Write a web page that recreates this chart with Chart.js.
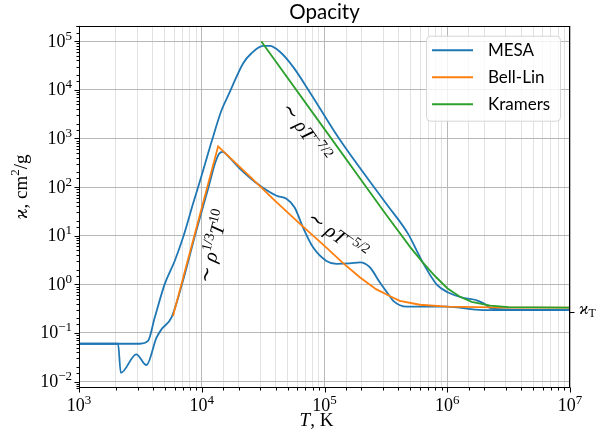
<!DOCTYPE html>
<html lang="en">
<head>
<meta charset="UTF-8">
<title>Opacity</title>
<script src="https://cdn.jsdelivr.net/npm/chart.js"></script>
<style>
  html, body { margin: 0; padding: 0; background: #fff; }
</style>
</head>
<body>
<canvas id="opacityChart" width="602" height="445"></canvas>
<script>
// MESA, upper track (T in K, kappa in cm^2/g)
const mesaHiT = [1000, 3130, 3650, 4140, 4990, 6030, 7050, 8490, 10260, 12000, 14490, 16900, 21700, 25400,
                 31600, 35800, 43300, 55500, 75900, 131800, 320000, 478600, 631000, 818000, 1020000,
                 1350000, 1740000, 2040000, 2240000, 2690000, 10000000];
const mesaHiK = [0.060, 0.060, 0.0684, 0.207, 1.01, 3.05, 9.23, 45.1, 219, 839, 3776, 8910, 34700, 56200,
                 79400, 79400, 60300, 29500, 8900, 977, 44.7, 11.0, 2.82, 1.0, 0.676,
                 0.525, 0.468, 0.389, 0.324, 0.309, 0.295];

// MESA, lower track
const mesaLoT = [1000, 2080, 2190, 2930, 3540, 4280, 4700, 5660, 7080, 8910, 11220, 12880, 13800, 14790,
                 16600, 20400, 29700, 40700, 49000, 57100, 66800, 80700, 103700, 125000, 160700, 195000,
                 234000, 282000, 339000, 363000, 468000, 1000000, 1950000, 10000000];
const mesaLoK = [0.060, 0.060, 0.0151, 0.0363, 0.0219, 0.080, 0.119, 0.207, 1.26, 11.2, 89.1, 316, 479, 525,
                 417, 240, 107, 66.1, 57.5, 38.0, 14.8, 5.75, 3.02, 2.63, 2.69, 2.82,
                 2.24, 1.10, 0.575, 0.457, 0.347, 0.347, 0.295, 0.295];

// Bell-Lin
const bellLinT = [5830, 13590, 25100, 39800, 63100, 100000, 141000, 195000, 263000, 339000, 411000,
                  598000, 1000000, 3160000, 10000000];
const bellLinK = [0.224, 684, 158, 51.3, 17.4, 6.17, 2.75, 1.38, 0.794, 0.575, 0.457,
                  0.380, 0.347, 0.331, 0.331];

// Kramers
const kramersT = [30600, 100000, 316000, 501000, 631000, 794000, 1000000, 1260000, 1580000, 2240000,
                  3160000, 10000000];
const kramersK = [97700, 1549, 27.5, 5.75, 2.82, 1.48, 0.832, 0.562, 0.437, 0.363, 0.339, 0.331];

// labelled decades
const xDecades = [1e3, 1e4, 1e5, 1e6, 1e7];
const yDecades = [1e-2, 1e-1, 1e0, 1e1, 1e2, 1e3, 1e4, 1e5];
const kappaT = 0.27;

const serif = '"Liberation Serif", "DejaVu Serif", serif';
const sans = 'Lato, "DejaVu Sans", sans-serif';
const mf = (size, style) => (style ? style + ' ' : '') + size + 'px ' + serif;

const isDecade = v => Math.abs(Math.log10(v) - Math.round(Math.log10(v))) < 1e-6;
const series = (T, K) => T.map((t, i) => ({ x: t, y: K[i] }));

// power-law labels along the curves
const notes = [
  { T: 64000, k: 1500, angle: 54, runs: [
    { text: '\u223C ', font: mf(20) }, { text: '\u03C1', font: mf(20, 'italic') },
    { text: 'T', font: mf(20, 'italic') }, { text: '\u22127/2', font: mf(14), dy: -8 }] },
  { T: 119000, k: 10.5, angle: 36, runs: [
    { text: '\u223C ', font: mf(20) }, { text: '\u03C1', font: mf(20, 'italic') },
    { text: 'T', font: mf(20, 'italic') }, { text: '\u22125/2', font: mf(14), dy: -8 }] },
  { T: 13900, k: 7.4, angle: -76, runs: [
    { text: '\u223C ', font: mf(20) }, { text: '\u03C1', font: mf(20, 'italic') },
    { text: '1/3', font: mf(14), dy: -8 }, { text: 'T', font: mf(20, 'italic') },
    { text: '10', font: mf(14), dy: -8 }] }
];

function drawRuns(ctx, runs, x, y, angle, align) {
  ctx.save();
  ctx.translate(x, y);
  ctx.rotate(angle * Math.PI / 180);
  ctx.textAlign = 'left';
  ctx.textBaseline = 'alphabetic';
  let w = 0;
  runs.forEach(r => { ctx.font = r.font; r.w = ctx.measureText(r.text).width; w += r.w; });
  let xx = align === 'center' ? -w / 2 : (align === 'right' ? -w : 0);
  runs.forEach(r => { ctx.font = r.font; ctx.fillText(r.text, xx, r.dy || 0); xx += r.w; });
  ctx.restore();
}

function powRuns(v) {
  const e = Math.round(Math.log10(v));
  return [{ text: '10', font: mf(18) }, { text: (e < 0 ? '\u2212' : '') + Math.abs(e), font: mf(13), dy: -7 }];
}

const decorations = {
  id: 'decorations',
  afterDraw(chart) {
    const { ctx, chartArea: a, scales: { x, y } } = chart;
    ctx.save();
    ctx.fillStyle = '#000';
    ctx.strokeStyle = '#000';

    // power-law notes
    notes.forEach(n => {
      drawRuns(ctx, n.runs, x.getPixelForValue(n.T), y.getPixelForValue(n.k) + 6, n.angle, 'center');
    });

    // frame
    ctx.lineWidth = 1;
    const L = Math.round(a.left) + 0.5, R = Math.round(a.right) - 0.5;
    const Tp = Math.round(a.top) + 0.5, B = Math.round(a.bottom) - 0.5;
    ctx.strokeRect(L, Tp, R - L, B - Tp);

    // tick marks
    ctx.beginPath();
    x.ticks.forEach(t => {
      const px = Math.round(x.getPixelForValue(t.value)) + 0.5;
      const len = isDecade(t.value) ? 5 : 3;
      ctx.moveTo(px, B); ctx.lineTo(px, B + len);
    });
    y.ticks.forEach(t => {
      const py = Math.round(y.getPixelForValue(t.value)) + 0.5;
      const len = isDecade(t.value) ? 5 : 3;
      ctx.moveTo(L, py); ctx.lineTo(L - len, py);
    });
    const pk = Math.round(y.getPixelForValue(kappaT)) + 0.5;
    ctx.moveTo(R, pk); ctx.lineTo(R + 5, pk);
    ctx.stroke();

    // tick labels
    xDecades.forEach(v => drawRuns(ctx, powRuns(v), x.getPixelForValue(v), a.bottom + 23, 0, 'center'));
    yDecades.forEach(v => drawRuns(ctx, powRuns(v), a.left - 7, y.getPixelForValue(v) + 5.5, 0, 'right'));

    // axis titles
    drawRuns(ctx, [{ text: 'T', font: mf(19, 'italic') }, { text: ', K', font: mf(19) }],
      (a.left + a.right) / 2 - 8, a.bottom + 38, 0, 'center');
    drawRuns(ctx, [{ text: '\u03F0', font: mf(19, 'italic') }, { text: ', cm', font: mf(19) },
      { text: '2', font: mf(13), dy: -8 }, { text: '/g', font: mf(19) }],
      27, (a.top + a.bottom) / 2 - 20, -90, 'center');

    // kappa_T marker label
    drawRuns(ctx, [{ text: '\u03F0', font: mf(17, 'italic') }, { text: 'T', font: mf(12), dy: 3 }],
      a.right + 9, pk + 1.5, 0, 'left');

    // legend
    const bx = a.right - 144, by = a.top + 10, bw = 134, bh = 85;
    ctx.beginPath();
    ctx.roundRect(bx + 0.5, by + 0.5, bw, bh, 4);
    ctx.fillStyle = 'rgba(255,255,255,0.8)';
    ctx.fill();
    ctx.strokeStyle = '#d6d6d6';
    ctx.stroke();
    ctx.font = '17px ' + sans;
    ctx.textBaseline = 'middle';
    ctx.textAlign = 'left';
    chart.data.datasets.filter(d => d.inLegend !== false).forEach((d, i) => {
      const ly = by + 14.5 + i * 27;
      ctx.strokeStyle = d.borderColor;
      ctx.lineWidth = 2;
      ctx.beginPath();
      ctx.moveTo(bx + 6, ly); ctx.lineTo(bx + 47, ly);
      ctx.stroke();
      ctx.fillStyle = '#000';
      ctx.fillText(d.label, bx + 62, ly);
    });
    ctx.restore();
  }
};

const line = (label, color, T, K, order, smooth) => ({
  label: label,
  data: series(T, K),
  borderColor: color,
  backgroundColor: color,
  borderWidth: 1.8,
  pointRadius: 0,
  fill: false,
  order: order,
  cubicInterpolationMode: smooth ? 'monotone' : 'default',
  tension: 0
});

const mesaLo = line('MESA', '#1f77b4', mesaLoT, mesaLoK, 2, true);
mesaLo.inLegend = false;

new Chart(document.getElementById('opacityChart').getContext('2d'), {
  type: 'line',
  data: {
    datasets: [
      line('MESA', '#1f77b4', mesaHiT, mesaHiK, 2, true),
      mesaLo,
      line('Bell-Lin', '#ff7f0e', bellLinT, bellLinK, 1, false),
      line('Kramers', '#2ca02c', kramersT, kramersK, 0, false)
    ]
  },
  options: {
    responsive: false,
    animation: false,
    devicePixelRatio: 1,
    layout: { padding: { top: 0, right: 32, bottom: 0, left: 0 } },
    plugins: {
      legend: { display: false },
      tooltip: { enabled: false },
      title: {
        display: true,
        text: 'Opacity',
        fullSize: false,
        color: '#000',
        font: { family: sans, size: 20.5, weight: 'normal', lineHeight: 1.2 },
        padding: { top: 0, bottom: 1.1 }
      }
    },
    scales: {
      x: {
        type: 'logarithmic',
        min: 1e3,
        max: 1e7,
        ticks: { display: false },
        border: { display: false },
        grid: {
          drawTicks: false,
          lineWidth: 1,
          color: c => isDecade(c.tick.value) ? '#b8b8b8' : '#e2e2e2'
        },
        afterFit: s => { s.height = 57; }
      },
      y: {
        type: 'logarithmic',
        min: 0.00738,
        max: 2.07e5,
        ticks: { display: false },
        border: { display: false },
        grid: {
          drawTicks: false,
          lineWidth: 1,
          color: c => isDecade(c.tick.value) ? '#b8b8b8' : 'rgba(0,0,0,0)'
        },
        afterFit: s => { s.width = 79; }
      }
    }
  },
  plugins: [decorations]
});
</script>
</body>
</html>
